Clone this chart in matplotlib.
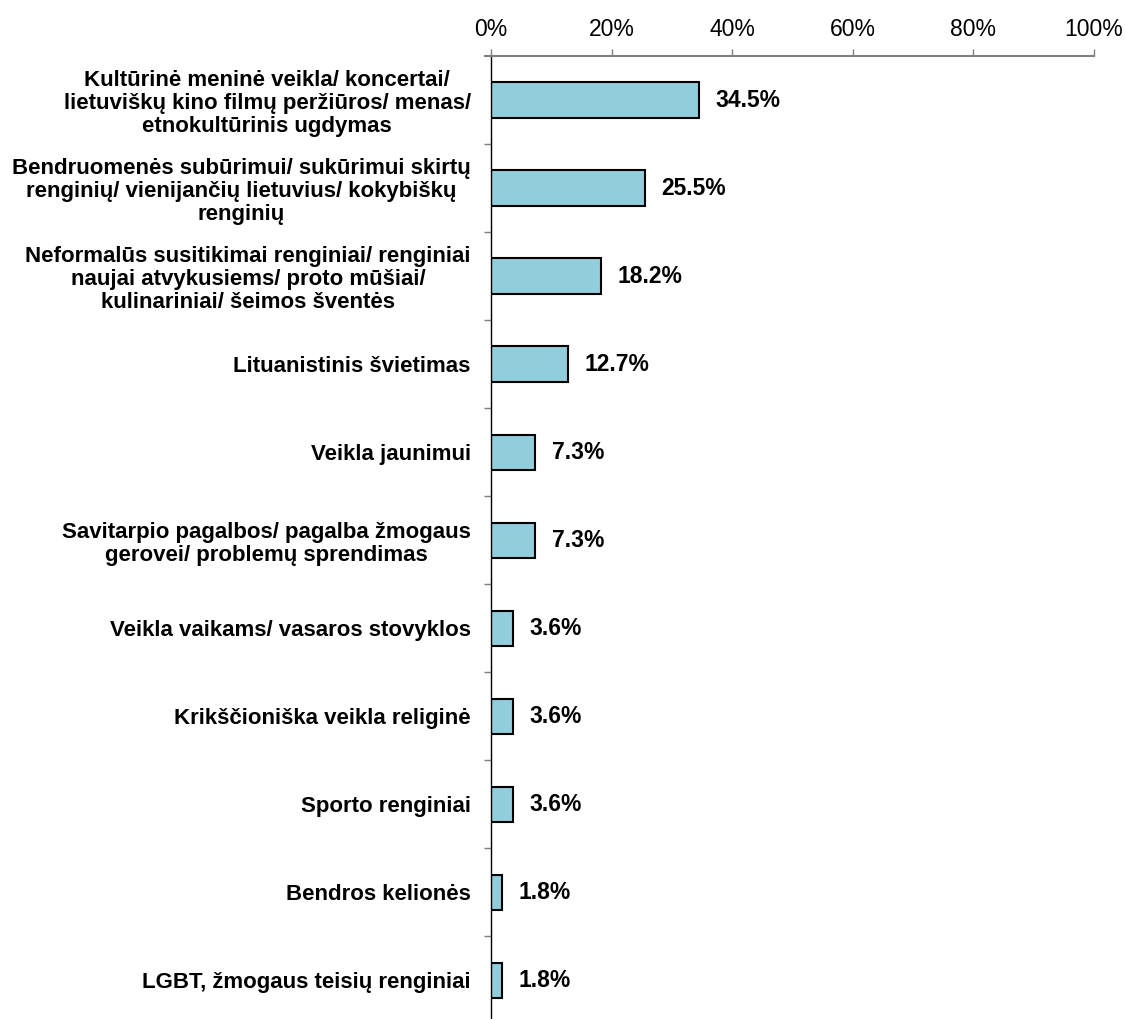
import matplotlib
matplotlib.use("Agg")
import matplotlib.pyplot as plt
import numpy as np

plt.rcParams['font.family'] = ['Liberation Sans', 'DejaVu Sans']

categories = [
    "Kultūrinė meninė veikla/ koncertai/\nlietuviškų kino filmų peržiūros/ menas/\netnokultūrinis ugdymas",
    "Bendruomenės subūrimui/ sukūrimui skirtų\nrenginių/ vienijančių lietuvius/ kokybiškų\nrenginių",
    "Neformalūs susitikimai renginiai/ renginiai\nnaujai atvykusiems/ proto mūšiai/\nkulinariniai/ šeimos šventės",
    "Lituanistinis švietimas",
    "Veikla jaunimui",
    "Savitarpio pagalbos/ pagalba žmogaus\ngerovei/ problemų sprendimas",
    "Veikla vaikams/ vasaros stovyklos",
    "Krikščioniška veikla religinė",
    "Sporto renginiai",
    "Bendros kelionės",
    "LGBT, žmogaus teisių renginiai",
]
values = [34.5, 25.5, 18.2, 12.7, 7.3, 7.3, 3.6, 3.6, 3.6, 1.8, 1.8]
xticks = [0, 20, 40, 60, 80, 100]

fs = 16.5

fig = plt.figure(figsize=(11.26, 10.19), dpi=100)
ax = fig.add_axes([491 / 1126, 0.0, (1094 - 491) / 1126, 1 - 56 / 1019])

y = np.arange(len(values))
ax.barh(y, values, height=0.4, color='#92CDDC', edgecolor='black', linewidth=1.5)

for yi, v in zip(y, values):
    ax.annotate(f"{v:.1f}%", (v, yi), xytext=(12, 0), textcoords='offset points',
                ha='left', va='center', fontsize=fs, fontweight='bold')

ax.set_xlim(0, 100)
ax.set_ylim(10.44, -0.5)

ax.xaxis.tick_top()
ax.set_xticks(xticks)
ax.set_xticklabels([f"{t}%" for t in xticks])
ax.tick_params(axis='x', length=5, width=1, color='#808080', pad=6, labelsize=fs)

ax.set_yticks(y)
ax.set_yticklabels(categories, fontweight='bold', fontsize=16,
                   ha='right', multialignment='center', linespacing=1.14)
ax.set_yticks(np.arange(len(values) - 1) + 0.5, minor=True)
ax.tick_params(axis='y', which='major', length=0, pad=14.5)
ax.tick_params(axis='y', which='minor', length=5, width=1, color='#808080')

for s in ['right', 'bottom']:
    ax.spines[s].set_visible(False)
ax.spines['top'].set_color('#808080')
ax.spines['top'].set_linewidth(1.5)
ax.spines['left'].set_color('black')
ax.spines['left'].set_linewidth(1)
ax.plot([-0.01, 0], [1, 1], transform=ax.transAxes, color='#808080',
        linewidth=1.5, clip_on=False)

fig.savefig('out.png', dpi=100)
